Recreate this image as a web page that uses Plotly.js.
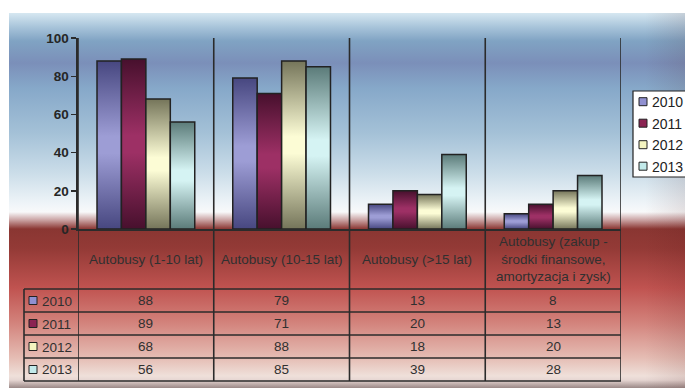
<!DOCTYPE html>
<html>
<head>
<meta charset="utf-8">
<script src="https://cdn.plot.ly/plotly-3.0.1.min.js"></script>
<style>
  html, body { margin: 0; padding: 0; background: #ffffff; }
  #wrap { position: relative; width: 685px; height: 388px; overflow: hidden; }
  #backdrop {
    position: absolute; left: 9px; top: 13px; width: 676px; height: 375px;
    background: linear-gradient(to bottom,
      #d6e7f1 0px, #a8c4da 14px, #80a3c3 28px, #7b8fb9 50px, #86a8c9 75px,
      #a4c1d7 120px, #cbdde9 160px, #eef4f8 190px, #f8f9fa 199px,
      #caa3a3 207px, #8a3632 216px, #933a36 235px, #c05350 275px,
      #d3837c 310px, #e5bdb4 345px, #efe0da 363px, #e6d6d2 367px, #9a8886 375px);
  }
  #edge {
    position: absolute; left: 645px; top: 13px; width: 40px; height: 375px;
    background: linear-gradient(to right, rgba(70,10,10,0) 0%, rgba(70,10,10,0.10) 100%);
  }
  #chart { position: absolute; left: 0; top: 0; width: 685px; height: 388px; }
</style>
</head>
<body>
<div id="wrap">
  <div id="backdrop"></div>
  <div id="edge"></div>
  <div id="chart"></div>
</div>
<script>
// Bus fleet categories and yearly values
const categories = [
  'Autobusy (1-10 lat)',
  'Autobusy (10-15 lat)',
  'Autobusy (>15 lat)',
  'Autobusy (zakup -<br>środki finansowe,<br>amortyzacja i zysk)'
];
const years = ['2010', '2011', '2012', '2013'];
const values2010 = [88, 79, 13, 8];
const values2011 = [89, 71, 20, 13];
const values2012 = [68, 88, 18, 20];
const values2013 = [56, 85, 39, 28];
const yTickValues = [0, 20, 40, 60, 80, 100];

const seriesValues = [values2010, values2011, values2012, values2013];

// Per-series styling: key colour plus dark/light stops of the bar shading
const keyColors = ['#9090d0', '#8b2352', '#f4f4c0', '#c2eaea'];
const shadeDark = ['#474780', '#47102d', '#75755a', '#5b7b79'];
const shadeLight = ['#9d9dd5', '#9d3065', '#fcfcd5', '#d5f3f3'];

const FONT = 'Liberation Sans, Arial, sans-serif';
const TEXT = '#303030';
const LINE = '#2b2b2b';

// Plot frame in pixels
const W = 685, H = 388;
const L = 78, R = 621, T = 38, B = 229;
const px = x => (x - L) / (R - L);
const py = y => (B - y) / (B - T);

// Data table geometry (pixels)
const headerBottom = 289;
const rowEdges = [289, 312, 335, 358, 381];
const tableLeft = 24;

const traces = years.map((yr, i) => ({
  type: 'bar',
  name: yr,
  x: categories,
  y: seriesValues[i],
  marker: { color: keyColors[i], line: { color: '#222222', width: 1.5 } },
  hoverinfo: 'skip'
}));

const shapes = [];
const annotations = [];

// Column separators running through plot and table
for (let i = 0; i <= categories.length; i++) {
  shapes.push({ type: 'line', xref: 'x', yref: 'paper', x0: i - 0.5, x1: i - 0.5,
    y0: py(rowEdges[rowEdges.length - 1]), y1: 1, line: { color: LINE, width: 1.6 } });
}
// Row separators
rowEdges.forEach(e => {
  shapes.push({ type: 'line', xref: 'paper', yref: 'paper', x0: px(tableLeft), x1: 1,
    y0: py(e), y1: py(e), line: { color: LINE, width: 1.6 } });
});
// Left edge of the year column
shapes.push({ type: 'line', xref: 'paper', yref: 'paper', x0: px(tableLeft), x1: px(tableLeft),
  y0: py(rowEdges[0]), y1: py(rowEdges[rowEdges.length - 1]), line: { color: LINE, width: 1.6 } });

// Header cells
categories.forEach((c, i) => {
  annotations.push({ xref: 'x', yref: 'paper', x: i, y: py((B + headerBottom) / 2),
    text: c, showarrow: false, xanchor: 'center', yanchor: 'middle',
    font: { family: FONT, size: 13.5, color: TEXT } });
});

// Value rows with year keys
years.forEach((yr, r) => {
  const top = rowEdges[r], bot = rowEdges[r + 1], mid = (top + bot) / 2;
  shapes.push({ type: 'rect', xref: 'paper', yref: 'paper',
    x0: px(29), x1: px(37), y0: py(mid - 4), y1: py(mid + 4),
    fillcolor: keyColors[r], line: { color: '#222222', width: 1 } });
  annotations.push({ xref: 'paper', yref: 'paper', x: px(39.5), y: py(mid + 0.5),
    text: yr, showarrow: false, xanchor: 'left', yanchor: 'middle',
    font: { family: FONT, size: 13.5, color: TEXT } });
  seriesValues[r].forEach((v, c) => {
    annotations.push({ xref: 'x', yref: 'paper', x: c, y: py(mid),
      text: String(v), showarrow: false, xanchor: 'center', yanchor: 'middle',
      font: { family: FONT, size: 13.5, color: TEXT } });
  });
});

// Legend box
const legLeft = 633, legTop = 91, legBottom = 177, legStep = 21.5, legFirst = 101.7;
shapes.push({ type: 'rect', xref: 'paper', yref: 'paper',
  x0: px(legLeft), x1: px(700), y0: py(legBottom), y1: py(legTop),
  fillcolor: '#ffffff', line: { color: '#222222', width: 1.2 } });
years.forEach((yr, i) => {
  const cy = legFirst + i * legStep;
  shapes.push({ type: 'rect', xref: 'paper', yref: 'paper',
    x0: px(639), x1: px(647), y0: py(cy - 4), y1: py(cy + 4),
    fillcolor: keyColors[i], line: { color: '#222222', width: 1 } });
  annotations.push({ xref: 'paper', yref: 'paper', x: px(650), y: py(cy + 0.5),
    text: yr, showarrow: false, xanchor: 'left', yanchor: 'middle',
    font: { family: FONT, size: 14, color: '#222222' } });
});

const layout = {
  width: W, height: H,
  margin: { l: L, r: W - R, t: T, b: H - B, autoexpand: false },
  paper_bgcolor: 'rgba(0,0,0,0)',
  plot_bgcolor: 'rgba(0,0,0,0)',
  barmode: 'group',
  bargap: 0.28,
  bargroupgap: 0,
  showlegend: false,
  xaxis: {
    type: 'category', range: [-0.5, categories.length - 0.5],
    showticklabels: false, ticks: '', showgrid: false, zeroline: false,
    showline: true, linecolor: LINE, linewidth: 1.6
  },
  yaxis: {
    range: [0, 100], tickvals: yTickValues, ticks: 'outside', ticklen: 5,
    tickcolor: LINE, tickwidth: 1.4, showgrid: false, zeroline: false,
    showline: true, linecolor: LINE, linewidth: 1.6,
    tickfont: { family: FONT, size: 13.5, color: '#262626', weight: 'bold' }
  },
  shapes: shapes,
  annotations: annotations
};

Plotly.newPlot('chart', traces, layout, { displayModeBar: false, staticPlot: true }).then(gd => {
  // Vertical dark-light-dark shading on every bar
  const svg = gd.querySelector('svg.main-svg');
  const NS = 'http://www.w3.org/2000/svg';
  let defs = svg.querySelector('defs');
  if (!defs) { defs = document.createElementNS(NS, 'defs'); svg.insertBefore(defs, svg.firstChild); }
  years.forEach((yr, i) => {
    const g = document.createElementNS(NS, 'linearGradient');
    g.setAttribute('id', 'barshade-' + i);
    g.setAttribute('x1', '0'); g.setAttribute('y1', '0');
    g.setAttribute('x2', '0'); g.setAttribute('y2', '1');
    [[0, shadeDark[i]], [0.45, shadeLight[i]], [0.55, shadeLight[i]], [1, shadeDark[i]]].forEach(([o, c]) => {
      const s = document.createElementNS(NS, 'stop');
      s.setAttribute('offset', o);
      s.setAttribute('stop-color', c);
      g.appendChild(s);
    });
    defs.appendChild(g);
  });
  gd.querySelectorAll('.barlayer .trace').forEach((t, k) => {
    const idx = (t.__data__ && t.__data__[0] && t.__data__[0].trace) ? t.__data__[0].trace.index : k;
    t.querySelectorAll('path').forEach(p => { p.style.fill = 'url(#barshade-' + idx + ')'; });
  });
});
</script>
</body>
</html>
